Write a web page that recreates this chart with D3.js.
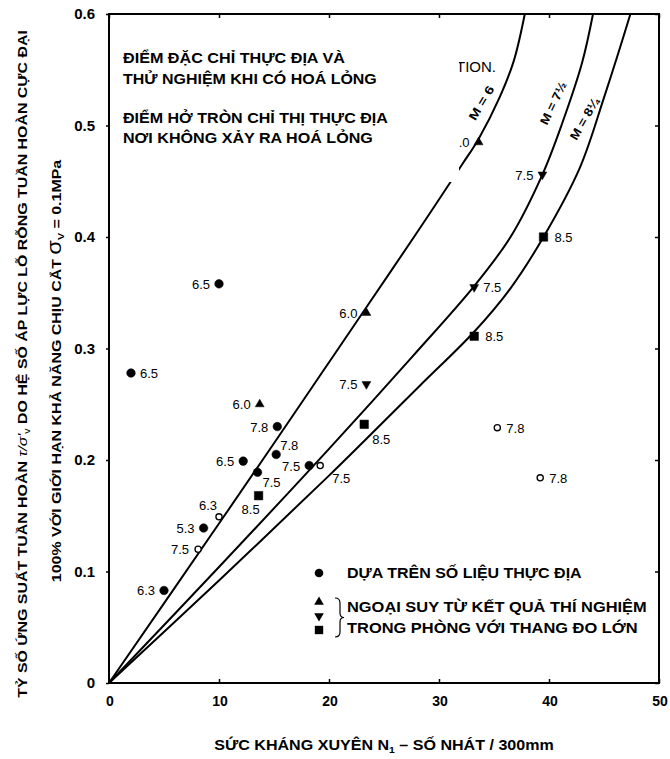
<!DOCTYPE html>
<html><head><meta charset="utf-8">
<script src="https://cdn.jsdelivr.net/npm/d3@7"></script>
<style>
body{margin:0;background:#fff}
svg{display:block}
text{font-family:"Liberation Sans",Arial,Helvetica,sans-serif;fill:#000}
</style>
</head><body>
<svg id="chart" width="670" height="759"></svg>
<script>
// ---------- DATA ----------
const xTicks = [0, 10, 20, 30, 40, 50];
const xTickLabels = ["0", "10", "20", "30", "40", "50"];
const yTicks = [0, 0.1, 0.2, 0.3, 0.4, 0.5, 0.6];
const yTickLabels = ["0", "0.1", "0.2", "0.3", "0.4", "0.5", "0.6"];

const curveNames = ["M = 6", "M = 7½", "M = 8¼"];
const curveM6   = [[0,0],[10,0.143],[15,0.215],[19.2,0.276],[23.4,0.337],[28,0.404],[32.1,0.465],[33.6,0.488],[35.5,0.525],[36.8,0.558],[37.8,0.6]];
const curveM75  = [[0,0],[10,0.104],[20,0.210],[27.6,0.293],[33.2,0.356],[36.5,0.400],[39.4,0.456],[41.2,0.502],[43.0,0.556],[44.0,0.6]];
const curveM825 = [[0,0],[10,0.092],[20,0.186],[23.2,0.217],[28.3,0.267],[33.2,0.315],[36.5,0.354],[39.5,0.400],[42.8,0.462],[45,0.525],[47.4,0.6]];

// [N1, stress ratio, magnitude label]
const fieldLiquefied = [[10.0,0.358,"6.5"],[2.0,0.278,"6.5"],[15.3,0.230,"7.8"],[15.2,0.205,"7.8"],[12.2,0.199,"6.5"],[13.5,0.189,"7.5"],[8.6,0.139,"5.3"],[5.0,0.083,"6.3"],[18.2,0.195,"7.5"]];
const fieldNoLiquefaction = [[10.0,0.149,"6.3"],[8.1,0.120,"7.5"],[19.2,0.195,"7.5"],[35.3,0.229,"7.8"],[39.2,0.184,"7.8"]];
const labTriUp   = [[13.7,0.250,"6.0"],[23.4,0.332,"6.0"],[33.6,0.485,"6.0"]];
const labTriDown = [[23.4,0.268,"7.5"],[33.2,0.355,"7.5"],[39.4,0.456,"7.5"]];
const labSquare  = [[13.6,0.168,"8.5"],[23.2,0.232,"8.5"],[33.2,0.311,"8.5"],[39.5,0.400,"8.5"]];

// label placement codes (layout, kept apart from the values)
const sideFieldLiq   = ["l","r","l","ur","l","br","l","l","l"];
const sideFieldNoLiq = ["ul","l","br2","r","r"];
const sideTriUp      = ["l","l","l"];
const sideTriDown    = ["l","r","l"];
const sideSquare     = ["bl","br3","rs","rs"];

const boxLines = ["ĐIỂM ĐẶC CHỈ THỰC ĐỊA VÀ","THỬ NGHIỆM KHI CÓ HOÁ LỎNG","ĐIỂM HỞ TRÒN CHỈ THỊ THỰC ĐỊA","NƠI KHÔNG XẢY RA HOÁ LỎNG"];
const legendLines = ["DỰA TRÊN SỐ LIỆU THỰC ĐỊA","NGOẠI SUY TỪ KẾT QUẢ THÍ NGHIỆM","TRONG PHÒNG VỚI THANG ĐO LỚN"];

// ---------- CHART ----------
const svg = d3.select("#chart");
const x = d3.scaleLinear().domain([0, 50]).range([109, 659]);
const y = d3.scaleLinear().domain([0, 0.6]).range([683, 14]);

function fit(sel, len) {
  const w = sel.node().getComputedTextLength();
  const k = len / w;
  const t = sel.attr("data-t") || "";
  sel.attr("transform", t + ` scale(${k},1)`);
  return sel;
}
function fitText(parent, str, cx, cy, len, opts = {}) {
  const t = parent.append("text")
    .attr("x", 0).attr("y", 0)
    .attr("text-anchor", opts.anchor || "start")
    .attr("font-size", opts.size || 14)
    .attr("font-weight", opts.weight || "bold")
    .attr("data-t", `translate(${cx},${cy}) rotate(${opts.rot || 0})`)
    .text(str);
  return fit(t, len);
}

// curves
const line = d3.line().x(d => x(d[0])).y(d => y(d[1])).curve(d3.curveCatmullRom.alpha(0.5));
[curveM6, curveM75, curveM825].forEach(c => {
  svg.append("path").datum(c).attr("d", line)
    .attr("fill", "none").attr("stroke", "#000").attr("stroke-width", 2);
});

// markers
const offsets = {
  l:  [-9, 5, "end"],  r: [9, 5, "start"], rs: [11, 5, "start"],
  ur: [4, -4, "start"], br: [5, 15, "start"], br2: [12, 17, "start"],
  br3: [8, 20, "start"], bl: [-8, 18, "middle"], ul: [-2, -7, "end"]
};
function drawSeries(data, sides, symType, size, rot, filled) {
  const g = svg.append("g");
  g.selectAll("path").data(data).join("path")
    .attr("d", d3.symbol().type(symType).size(size))
    .attr("transform", d => `translate(${x(d[0])},${y(d[1])}) rotate(${rot})`)
    .attr("fill", filled ? "#000" : "#fff")
    .attr("stroke", "#000").attr("stroke-width", filled ? 0.5 : 1.3);
  g.selectAll("text").data(data).join("text")
    .attr("x", (d, i) => x(d[0]) + offsets[sides[i]][0])
    .attr("y", (d, i) => y(d[1]) + offsets[sides[i]][1])
    .attr("text-anchor", (d, i) => offsets[sides[i]][2])
    .attr("font-size", 13)
    .text(d => d[2]);
}
drawSeries(fieldLiquefied, sideFieldLiq, d3.symbolCircle, 58, 0, true);
drawSeries(fieldNoLiquefaction, sideFieldNoLiq, d3.symbolCircle, 30, 0, false);
drawSeries(labTriUp, sideTriUp, d3.symbolTriangle, 34, 0, true);
drawSeries(labTriDown, sideTriDown, d3.symbolTriangle, 34, 180, true);
drawSeries(labSquare, sideSquare, d3.symbolSquare, 72, 0, true);

// partially masked old annotation
svg.append("text").attr("x", 496).attr("y", 72).attr("text-anchor", "end")
  .attr("font-size", 15).text("LIQUEFACTION.");

// white mask area (top-left)
svg.append("rect").attr("x", 112).attr("y", 16).attr("width", 347).attr("height", 166).attr("fill", "#fff");

// curve labels
const curveLabelPos = [[485, 101, -59, 38], [557, 101, -64, 46], [588, 117, -60, 46]];
curveNames.forEach((n, i) => {
  const p = curveLabelPos[i];
  fitText(svg, n, p[0], p[1] + 4, p[3], { anchor: "middle", size: 12, rot: p[2] });
});

// text box
const boxPos = [[123, 63, 222], [123, 84, 254], [123, 123, 265], [123, 143, 250]];
boxLines.forEach((s, i) => fitText(svg, s, boxPos[i][0], boxPos[i][1], boxPos[i][2], { size: 14 }));

// frame and ticks
svg.append("rect").attr("x", x(0)).attr("y", y(0.6))
  .attr("width", x(50) - x(0)).attr("height", y(0) - y(0.6))
  .attr("fill", "none").attr("stroke", "#000").attr("stroke-width", 2);
const axB = d3.axisBottom(x).tickValues(xTicks).tickSize(-4).tickFormat("");
const axT = d3.axisTop(x).tickValues(xTicks).tickSize(-4).tickFormat("");
const axL = d3.axisLeft(y).tickValues(yTicks).tickSize(3).tickFormat("");
const axR = d3.axisRight(y).tickValues(yTicks).tickSize(-4).tickFormat("");
[[axB, `translate(0,${y(0)})`], [axT, `translate(0,${y(0.6)})`],
 [axL, `translate(${x(0)},0)`], [axR, `translate(${x(50)},0)`]].forEach(([a, t]) => {
  const g = svg.append("g").attr("transform", t).call(a);
  g.select(".domain").remove();
  g.selectAll("line").attr("stroke", "#000").attr("stroke-width", 1.5);
});

// tick labels
svg.append("g").selectAll("text").data(xTicks).join("text")
  .attr("x", d => x(d) + 1).attr("y", 706).attr("text-anchor", "middle")
  .attr("font-size", 14).attr("font-weight", "bold")
  .text((d, i) => xTickLabels[i]);
svg.append("g").selectAll("text").data(yTicks).join("text")
  .attr("x", 95).attr("y", d => y(d) + 5).attr("text-anchor", "end")
  .attr("font-size", 15).attr("font-weight", "bold")
  .text((d, i) => yTickLabels[i]);

// x title
{
  const t = svg.append("text").attr("text-anchor", "middle").attr("font-size", 14)
    .attr("font-weight", "bold").attr("data-t", "translate(384,750)");
  t.append("tspan").text("SỨC KHÁNG XUYÊN N");
  t.append("tspan").attr("font-size", 9).attr("dy", 3).text("1");
  t.append("tspan").attr("dy", -3).text(" – SỐ NHÁT / 300mm");
  fit(t, 340);
}
// y title line 1
{
  const t = svg.append("text").attr("text-anchor", "middle").attr("font-size", 13.5)
    .attr("font-weight", "bold").attr("data-t", "translate(27,364) rotate(-90)");
  t.append("tspan").text("TỶ SỐ ỨNG SUẤT TUẦN HOÀN ");
  t.append("tspan").attr("font-weight", "normal").attr("font-style", "italic").text("τ/σ'");
  t.append("tspan").attr("font-weight", "normal").attr("font-size", 9).attr("dy", 3).text("v");
  t.append("tspan").attr("dy", -3).text(" DO HỆ SỐ ÁP LỰC LỖ RỖNG TUẦN HOÀN CỰC ĐẠI");
  fit(t, 668);
}
// y title line 2
{
  const t = svg.append("text").attr("text-anchor", "middle").attr("font-size", 13.5)
    .attr("font-weight", "bold").attr("data-t", "translate(61,371) rotate(-90)");
  t.append("tspan").text("100% VỚI GIỚI HẠN KHẢ NĂNG CHỊU CẮT  ");
  t.append("tspan").attr("font-weight", "normal").attr("font-size", 20).text("σ");
  t.append("tspan").attr("font-size", 9).attr("dy", 3).text("V");
  t.append("tspan").attr("dy", -3).text(" = 0.1MPa");
  fit(t, 423);
}

// legend
const lg = svg.append("g");
lg.append("path").attr("d", d3.symbol().type(d3.symbolCircle).size(58)).attr("transform", "translate(319,573)");
lg.append("path").attr("d", d3.symbol().type(d3.symbolTriangle).size(40)).attr("transform", "translate(319,602)");
lg.append("path").attr("d", d3.symbol().type(d3.symbolTriangle).size(40)).attr("transform", "translate(319,616) rotate(180)");
lg.append("path").attr("d", d3.symbol().type(d3.symbolSquare).size(70)).attr("transform", "translate(319,630)");
lg.append("path").attr("d", "M335,598 Q340,598 340,603 L340,613 Q340,617.5 344,617.5 Q340,617.5 340,622 L340,632 Q340,637 335,637")
  .attr("fill", "none").attr("stroke", "#000").attr("stroke-width", 1.2);
const legPos = [[347, 578, 235], [347, 612, 300], [347, 633, 291]];
legendLines.forEach((s, i) => fitText(lg, s, legPos[i][0], legPos[i][1], legPos[i][2], { size: 14 }));
</script>
</body></html>
